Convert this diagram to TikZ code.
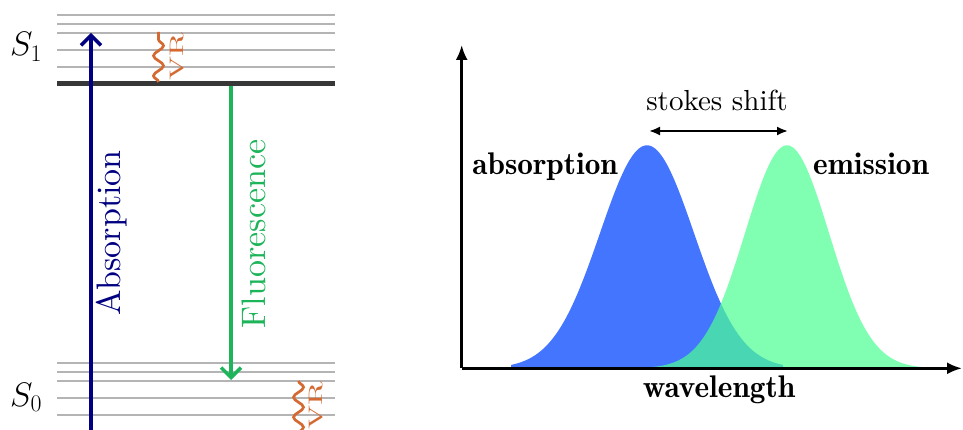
\RequirePackage{fix-cm}
\documentclass[tikz,border=0pt]{standalone}
\usepackage{fontspec}
\newfontface\lmrten{lmroman10-regular.otf}
\newfontface\lmbxten{lmromandemi10-regular.otf}
\usetikzlibrary{arrows.meta,decorations.pathmorphing}
\definecolor{levelgray}{RGB}{180,180,180}
\definecolor{leveldark}{RGB}{55,55,55}
\definecolor{absnavy}{RGB}{0,0,128}
\definecolor{fluogreen}{RGB}{30,180,90}
\definecolor{vrorange}{RGB}{212,106,50}
\definecolor{absblue}{RGB}{68,117,255}
\definecolor{emgreen}{RGB}{76,255,147}
\tikzset{
  level/.style={draw=levelgray, line width=2pt},
  groundlevel/.style={draw=leveldark, line width=5pt},
  bigtext/.style={font=\fontsize{34}{40}\selectfont\lmrten, inner sep=0pt},
  vrtext/.style={font=\fontsize{19.5}{22}\selectfont\lmrten, text=vrorange, inner sep=0pt, rotate=90, anchor=base},
  vrsnake/.style={draw=vrorange, line width=2.7pt, decorate,
    decoration={snake, segment length=20pt, amplitude=5pt}},
  transition/.style={line width=3.5pt, arrows={-Straight Barb[length=10pt,width=20pt]}},
  axis/.style={line width=2.6pt, arrows={-Latex[length=15pt,width=12pt]}},
  boldlabel/.style={font=\fontsize{31.3}{36}\selectfont\lmbxten, inner sep=0pt},
}
\begin{document}
\begin{tikzpicture}[x=1pt,y=-1pt]
\useasboundingbox (0,0) rectangle (963,430);

% ---------- Jablonski diagram ----------
\foreach \yy in {15,24,33,50,67,363,372,381,398,415}
  \draw[level] (57,\yy) -- (335,\yy);
\draw[groundlevel] (57,84) -- (335,84);

\node[font=\fontsize{34}{40}\selectfont, inner sep=0pt, anchor=base west] (s1) at (10,56) {$S_1$};
\node[font=\fontsize{34}{40}\selectfont, inner sep=0pt, anchor=base west] (s0) at (10,406) {$S_0$};

% absorption
\coordinate (absstart) at (91,440);
\coordinate (absend) at (91,33);
\draw[transition, absnavy] (absstart) -- (absend);
\node[bigtext, text=absnavy, rotate=90, anchor=base] (abslabel) at (120,233) {Absorption};

% fluorescence
\coordinate (flustart) at (231,86);
\coordinate (fluend) at (231,380);
\draw[transition, fluogreen] (flustart) -- (fluend);
\node[bigtext, text=fluogreen, rotate=90, anchor=base] (flulabel) at (265,234) {Fluorescence};

% vibrational relaxation
\coordinate (vrAstart) at (158.5,82);
\coordinate (vrAend) at (158.5,32);
\draw[vrsnake] (vrAstart) -- (vrAend);
\node[vrtext] (vrA) at (183.5,57) {\scalebox{1.65}[1]{VR}};

\coordinate (vrBstart) at (298.5,381);
\coordinate (vrBend) at (298.5,445);
\draw[vrsnake] (vrBstart) -- (vrBend);
\node[vrtext] (vrB) at (322,406) {\scalebox{1.65}[1]{VR}};

% ---------- spectra ----------
\fill[absblue] (511,368.3)
  -- plot[domain=511:783, samples=120, smooth] (\x, {368.3 - 223*exp(-0.5*((\x-647)/47)^2)})
  -- (783,368.3) -- cycle;
\fill[emgreen, fill opacity=0.71] (645,368.3)
  -- plot[domain=645:933, samples=120, smooth] (\x, {368.3 - 223*exp(-0.5*((\x-787)/42)^2)})
  -- (933,368.3) -- cycle;

\coordinate (origin) at (461.7,368.3);
\coordinate (yaxisend) at (461.7,45);
\coordinate (xaxisend) at (962,368.3);
\draw[axis] (origin) -- (yaxisend);
\draw[axis] (origin) -- (xaxisend);

\coordinate (stokesL) at (649,131);
\coordinate (stokesR) at (788,131);
\draw[line width=2pt, arrows={Latex[length=11pt,width=9pt]-Latex[length=11pt,width=9pt]}] (stokesL) -- (stokesR);
\node[font=\fontsize{29}{34}\selectfont\lmrten, inner sep=0pt, anchor=base] (stokes) at (717,111) {stokes shift};

\node[boldlabel, anchor=base east] (absorption) at (618,175) {absorption};
\node[boldlabel, anchor=base west] (emission) at (813,175) {emission};
\node[boldlabel, anchor=base] (wavelength) at (719,397) {wavelength};
\end{tikzpicture}
\end{document}
